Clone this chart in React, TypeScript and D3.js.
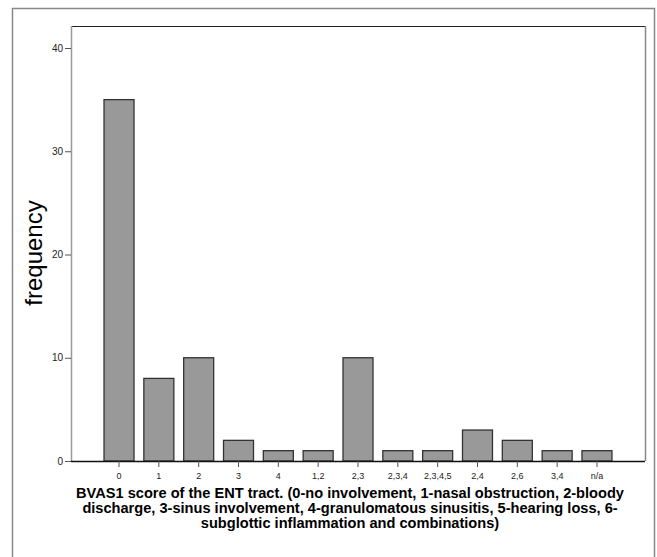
import React from "react";
import * as d3 from "d3";

const categories = ["0", "1", "2", "3", "4", "1,2", "2,3", "2,3,4", "2,3,4,5", "2,4", "2,6", "3,4", "n/a"];
const frequencies = [35, 8, 10, 2, 1, 1, 10, 1, 1, 3, 2, 1, 1];
const yTicks = [0, 10, 20, 30, 40];
const titleLines = [
  "BVAS1 score of the ENT tract. (0-no involvement, 1-nasal obstruction, 2-bloody",
  "discharge, 3-sinus involvement, 4-granulomatous sinusitis, 5-hearing loss, 6-",
  "subglottic inflammation and combinations)",
];

const W = 657;
const H = 557;
const plot = { left: 71, right: 645, top: 26, bottom: 461 };

export default function App() {
  const x = d3
    .scaleBand<string>()
    .domain(categories)
    .range([99.1, 99.1 + 39.83 * categories.length])
    .paddingInner(0.25)
    .paddingOuter(0.125);
  const step = x.step();
  const x0 = x.range()[0];
  const center = (c: string) => x0 + step * (categories.indexOf(c) + 0.5);
  const bw = 30;
  const y = d3.scaleLinear().domain([0, 40]).range([plot.bottom, 48]);
  const font = "'Liberation Sans', Arial, sans-serif";

  return (
    <svg
      width={W}
      height={H}
      style={{ position: "absolute", left: 0, top: 0, background: "#fff" }}
      fontFamily={font}
    >
      <rect x={0} y={0} width={W} height={H} fill="#fff" />
      {/* outer frame */}
      <path d={`M12.5,${H + 2} V8.5 H654.5 V${H + 2}`} fill="none" stroke="#888" strokeWidth={1.5} />
      {/* plot frame */}
      <line x1={plot.left} x2={plot.right} y1={plot.top + 0.5} y2={plot.top + 0.5} stroke="#222" strokeWidth={1.2} />
      <line x1={plot.right + 0.5} x2={plot.right + 0.5} y1={plot.top} y2={plot.bottom} stroke="#888" strokeWidth={1.5} />
      <line x1={plot.left + 0.5} x2={plot.left + 0.5} y1={plot.top} y2={plot.bottom} stroke="#999" strokeWidth={1.5} />
      {/* bars */}
      {categories.map((c, i) => (
        <rect
          key={c}
          x={center(c) - bw / 2}
          y={y(frequencies[i])}
          width={bw}
          height={plot.bottom - y(frequencies[i])}
          fill="#999999"
          stroke="#333"
          strokeWidth={1.3}
        />
      ))}
      {/* x axis */}
      <line x1={plot.left} x2={plot.right} y1={plot.bottom + 0.5} y2={plot.bottom + 0.5} stroke="#111" strokeWidth={1.3} />
      {categories.map((c) => (
        <g key={"t" + c}>
          <line x1={center(c)} x2={center(c)} y1={plot.bottom} y2={plot.bottom + 6} stroke="#555" />
          <text x={center(c)} y={plot.bottom + 18} textAnchor="middle" fontSize={9} fill="#222">
            {c}
          </text>
        </g>
      ))}
      {/* y axis ticks */}
      {yTicks.map((t) => (
        <g key={"y" + t}>
          <line x1={plot.left - 6} x2={plot.left} y1={y(t) + 0.5} y2={y(t) + 0.5} stroke="#555" />
          <text x={plot.left - 8} y={y(t) + 3.5} textAnchor="end" fontSize={10} fill="#222">
            {t}
          </text>
        </g>
      ))}
      <text
        transform={`translate(42,253) rotate(-90)`}
        textAnchor="middle"
        fontSize={24}
        fill="#000"
      >
        frequency
      </text>
      {titleLines.map((l, i) => (
        <text key={i} x={350} y={498 + i * 15} textAnchor="middle" fontSize={14.6} fontWeight="bold" fill="#000">
          {l}
        </text>
      ))}
    </svg>
  );
}
